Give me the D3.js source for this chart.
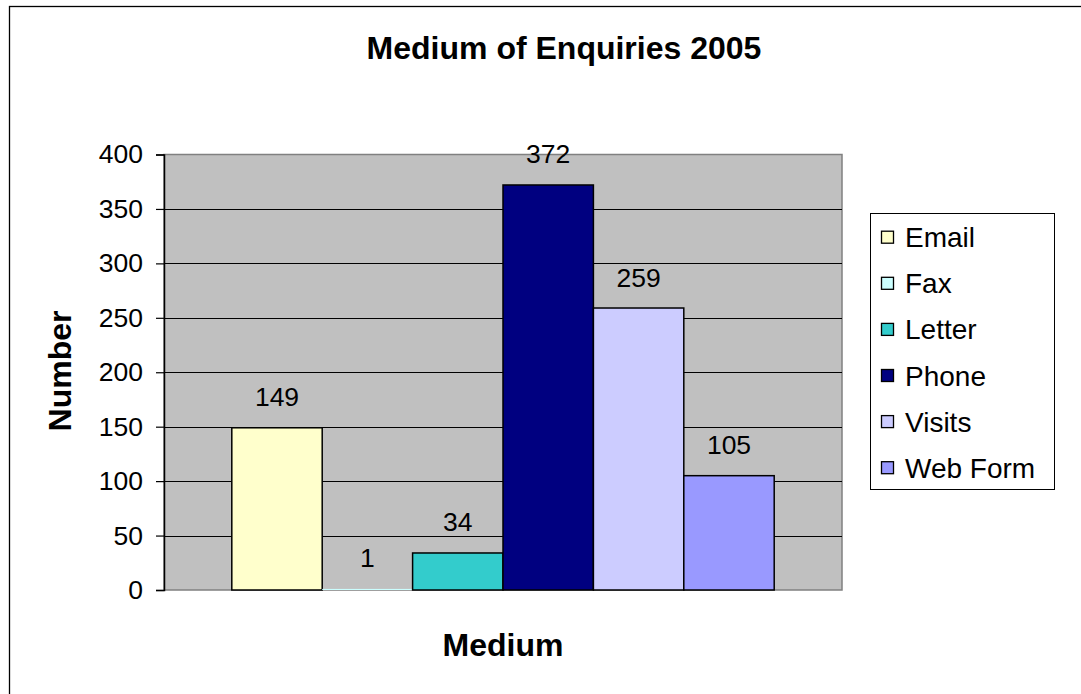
<!DOCTYPE html>
<html>
<head>
<meta charset="utf-8">
<script src="https://cdn.jsdelivr.net/npm/d3@7"></script>
<style>
  body { margin: 0; background: #fff; }
  text { font-family: "Liberation Sans", Arial, sans-serif; fill: #000; }
</style>
</head>
<body>
<div id="graphique"></div>
<script>
//----------------------------------------------------------------
// données
//----------------------------------------------------------------
var categories = ["Email", "Fax", "Letter", "Phone", "Visits", "Web Form"];
var valeurs = [149, 1, 34, 372, 259, 105];
var couleurs = ["#FFFFCC", "#CCFFFF", "#33CCCC", "#000080", "#CCCCFF", "#9999FF"];
var graduations = [0, 50, 100, 150, 200, 250, 300, 350, 400];
var titre = "Medium of Enquiries 2005";
var titreX = "Medium";
var titreY = "Number";

//----------------------------------------------------------------
// svg
//----------------------------------------------------------------
var largeurSvg = 1081, hauteurSvg = 694;
var zone = {gauche: 164, droite: 842, haut: 154.5, bas: 590};

var svg = d3.select("#graphique")
    .append("svg")
    .attr("width", largeurSvg)
    .attr("height", hauteurSvg);

// cadre du graphique (coupé à droite et en bas)
svg.append("rect")
    .attr("x", 9.5).attr("y", 6.5)
    .attr("width", 1200).attr("height", 800)
    .attr("fill", "#fff")
    .attr("stroke", "#000")
    .attr("stroke-width", 1.3);

// échelles
var x = d3.scaleBand()
    .domain(categories)
    .range([zone.gauche, zone.droite])
    .paddingInner(0)
    .paddingOuter(0.75);

var y = d3.scaleLinear()
    .domain([0, 400])
    .range([zone.bas, zone.haut]);

// fond gris
svg.append("rect")
    .attr("x", zone.gauche).attr("y", zone.haut)
    .attr("width", zone.droite - zone.gauche)
    .attr("height", zone.bas - zone.haut)
    .attr("fill", "#C0C0C0")
    .attr("stroke", "#808080")
    .attr("stroke-width", 1.5);

// lignes de grille
svg.append("g")
    .selectAll("line")
    .data(graduations.filter(function(d) { return d > 0 && d < 400; }))
    .enter().append("line")
        .attr("x1", zone.gauche).attr("x2", zone.droite)
        .attr("y1", function(d) { return Math.round(y(d)) + 0.5; })
        .attr("y2", function(d) { return Math.round(y(d)) + 0.5; })
        .attr("stroke", "#000")
        .attr("stroke-width", 1);

// barres (une barre de 1 px se perd dans le bord de la zone)
svg.append("g")
    .selectAll("rect")
    .data(valeurs)
    .enter().append("rect")
        .attr("x", function(d, i) { return x(categories[i]); })
        .attr("y", function(d) { return y(d); })
        .attr("width", x.bandwidth())
        .attr("height", function(d) { return y(0) - y(d); })
        .attr("fill", function(d, i) { return couleurs[i]; })
        .attr("stroke", function(d) { return (y(0) - y(d)) < 2 ? "none" : "#000"; })
        .attr("stroke-width", 1.5);

// étiquettes des valeurs
svg.append("g")
    .selectAll("text")
    .data(valeurs)
    .enter().append("text")
        .attr("x", function(d, i) { return x(categories[i]) + x.bandwidth() / 2; })
        .attr("y", function(d) { return y(d) - 21.5; })
        .attr("text-anchor", "middle")
        .style("font-size", "26.5px")
        .text(function(d) { return d; });

// axe vertical
var axeY = svg.append("g")
    .attr("transform", "translate(" + zone.gauche + ",0)")
    .call(d3.axisLeft(y).tickValues(graduations).tickSize(8).tickPadding(13));
axeY.select(".domain").attr("stroke", "#000").attr("stroke-width", 1.5);
axeY.selectAll(".tick line").attr("stroke", "#000").attr("stroke-width", 1.2);
axeY.selectAll(".tick text")
    .style("font-size", "26.5px")
    .style("font-family", "'Liberation Sans', Arial, sans-serif")
    .attr("dy", "0.32em");

// titres
svg.append("text")
    .attr("x", 564).attr("y", 59)
    .attr("text-anchor", "middle")
    .style("font-size", "32px")
    .style("font-weight", "bold")
    .text(titre);

svg.append("text")
    .attr("x", (zone.gauche + zone.droite) / 2).attr("y", 656)
    .attr("text-anchor", "middle")
    .style("font-size", "32px")
    .style("font-weight", "bold")
    .text(titreX);

svg.append("text")
    .attr("transform", "translate(71,371) rotate(-90)")
    .attr("text-anchor", "middle")
    .style("font-size", "32px")
    .style("font-weight", "bold")
    .text(titreY);

//----------------------------------------------------------------
// légende
//----------------------------------------------------------------
var legende = svg.append("g");
legende.append("rect")
    .attr("x", 870.5).attr("y", 213.5)
    .attr("width", 184).attr("height", 276)
    .attr("fill", "#fff")
    .attr("stroke", "#000")
    .attr("stroke-width", 1);

var pasLegende = 46.1;
var elements = legende.selectAll("g.element")
    .data(categories)
    .enter().append("g")
        .attr("class", "element")
        .attr("transform", function(d, i) { return "translate(0," + (237.7 + i * pasLegende) + ")"; });

elements.append("rect")
    .attr("x", 881.5).attr("y", -6.5)
    .attr("width", 12).attr("height", 12)
    .attr("fill", function(d, i) { return couleurs[i]; })
    .attr("stroke", "#000")
    .attr("stroke-width", 1.3);

elements.append("text")
    .attr("x", 905)
    .attr("y", 9.5)
    .style("font-size", "28px")
    .text(function(d) { return d; });
</script>
</body>
</html>
